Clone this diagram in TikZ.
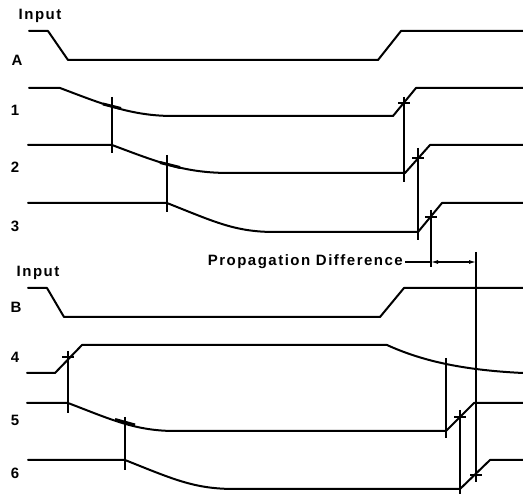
\documentclass[tikz,border=0pt]{standalone}
\usepackage{fontspec}
\setmainfont{Liberation Sans}[LetterSpace=10]
\usetikzlibrary{arrows.meta}
\begin{document}
\begin{tikzpicture}[x=1pt,y=-1pt,
  wave/.style={line width=2pt, line join=round, line cap=round},
  vline/.style={line width=1.1pt},
  crossmark/.style={line width=1.6pt},
  curvemark/.style={line width=3pt},
  lbl/.style={font=\fontsize{15}{18}\selectfont\bfseries, inner sep=0pt}]
\useasboundingbox (0,0) rectangle (523,494);
% labels
\node[lbl] (inA) at (40,16) {Input};
\node[lbl] (lA) at (17,60) {A};
\node[lbl] (l1) at (15,110) {1};
\node[lbl] (l2) at (15,167) {2};
\node[lbl] (l3) at (15,226) {3};
\node[lbl] (inB) at (38,273) {Input};
\node[lbl] (lB) at (16,307) {B};
\node[lbl] (l4) at (15,357) {4};
\node[lbl] (l5) at (15,420) {5};
\node[lbl] (l6) at (15,473) {6};
\node[lbl, anchor=east] (pd) at (403,262) {Propagation Difference};
% input A
\draw[wave] (29,31) -- (48,31) -- (68,60) -- (378,60) -- (401,31) -- (523,31);
% wave 1
\draw[wave] (29,88) -- (60,88) .. controls (100,103) and (130,116) .. (173,116) -- (393,116) -- (416,88) -- (523,88);
% wave 2
\draw[wave] (28,145) -- (112,145) .. controls (160,163) and (185,173) .. (230,173) -- (405,173) -- (430,145) -- (523,145);
% wave 3
\draw[wave] (28,203) -- (167,203) .. controls (215,222) and (235,232) .. (275,232) -- (418,232) -- (442,203) -- (523,203);
% input B
\draw[wave] (28,288) -- (47,288) -- (64,317) -- (380,317) -- (404,288) -- (523,288);
% wave 4
\draw[wave] (27,373) -- (55,373) -- (82,345) -- (387,345) .. controls (420,360) and (460,370) .. (523,373);
% wave 5
\draw[wave] (27,403) -- (68,403) .. controls (110,419) and (135,431) .. (175,431) -- (446,431) -- (474,403) -- (523,403);
% wave 6
\draw[wave] (28,460) -- (125,460) .. controls (175,480) and (195,489) .. (235,489) -- (460,489) -- (490,460) -- (523,460);
% marks on falling curves
\draw[curvemark] (103,104) -- (121,108.5);
\draw[curvemark] (160,162.5) -- (180,167.5);
\draw[curvemark] (115,419.5) -- (135,425);
% cross marks on rising edges
\draw[crossmark] (398,103) -- (410,103);
\draw[crossmark] (412,158) -- (424,158);
\draw[crossmark] (425,217) -- (437,217);
\draw[crossmark] (62,357) -- (74,357);
\draw[crossmark] (454,417) -- (466,417);
\draw[crossmark] (470,475) -- (482,475);
% vertical reference lines
\draw[vline] (112,97) -- (112,153);
\draw[vline] (167,155) -- (167,212);
\draw[vline] (404,97) -- (404,182);
\draw[vline] (418,148) -- (418,240);
\draw[vline] (431,210) -- (431,267);
\draw[vline] (476,252) -- (476,482);
\draw[vline] (68,351) -- (68,413);
\draw[vline] (125,417) -- (125,470);
\draw[vline] (446,358) -- (446,438);
\draw[vline] (460,410) -- (460,494);
% propagation difference
\coordinate (pa) at (431,262);
\coordinate (pb) at (476,262);
\draw[vline] (pd.east) ++(2,0) -- (pa);
\draw[vline, {Latex[length=7pt,width=4pt]}-{Latex[length=7pt,width=4pt]}] (pa) -- (pb);
\end{tikzpicture}
\end{document}
